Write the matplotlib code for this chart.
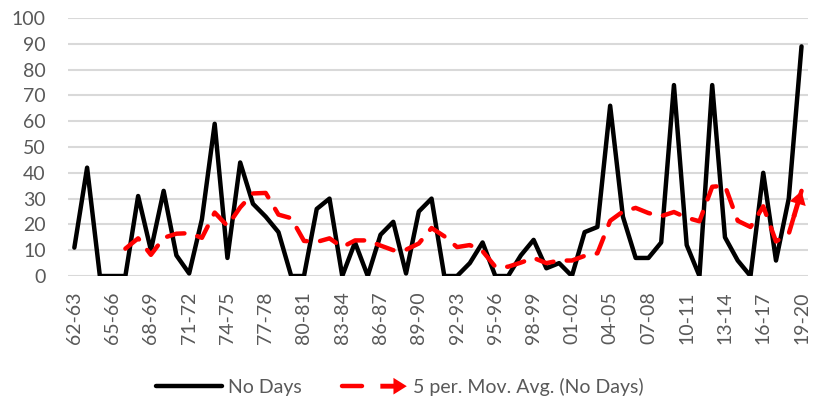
import numpy as np
import pandas as pd
import matplotlib
matplotlib.use('Agg')
import matplotlib.pyplot as plt
from matplotlib.lines import Line2D
from matplotlib.patches import FancyArrowPatch
from matplotlib.legend_handler import HandlerBase

plt.rcParams['font.family'] = ['Lato', 'DejaVu Sans']

# seasons 1962-63 .. 2019-20
start_years = list(range(1962, 2020))
seasons = ['%02d-%02d' % (y % 100, (y + 1) % 100) for y in start_years]

no_days = [11, 42, 0, 0, 0, 31, 10, 33, 8, 1,
           22, 59, 7, 44, 28, 23, 17, 0, 0, 26,
           30, 0, 13, 0, 16, 21, 1, 25, 30, 0,
           0, 5, 13, 0, 0, 8, 14, 3, 5, 0,
           17, 19, 66, 23, 7, 7, 13, 74, 12, 0,
           74, 15, 6, 0, 40, 6, 30, 89]

df = pd.DataFrame({'season': seasons, 'days': no_days})
# excel "5 per. Mov. Avg." trendline
df['ma5'] = df['days'].rolling(5).mean()

grey = '#595959'
lw = 3.2
arrow_style = 'simple,head_length=0.6,head_width=0.75,tail_width=0.22'


class DashArrowHandler(HandlerBase):
    def create_artists(self, legend, orig_handle, xdescent, ydescent,
                       width, height, fontsize, trans):
        y = height / 2 - ydescent
        x0 = -xdescent
        dash = Line2D([x0 + 1, x0 + width * 0.32], [y, y], color='red', lw=lw,
                      solid_capstyle='round', transform=trans)
        arr = FancyArrowPatch((x0 + width * 0.6, y), (x0 + width, y),
                              arrowstyle=arrow_style, mutation_scale=16,
                              color='red', lw=0, shrinkA=0, shrinkB=0,
                              transform=trans)
        return [dash, arr]


fig = plt.figure(figsize=(8.14, 4.01), dpi=100)
ax = fig.add_axes([0.0835, 0.3117, 0.909, 0.6434])

x = np.arange(len(df))
ax.plot(x, df['days'], color='black', lw=lw, solid_joinstyle='round',
        solid_capstyle='round', zorder=3)
ax.plot(x, df['ma5'], color='red', lw=lw, dashes=(4, 3),
        dash_capstyle='round', zorder=4)

# arrow head at end of trendline
m = df['ma5'].values
ax.annotate('', xy=(x[-1], m[-1]),
            xytext=(x[-1] - 0.6, m[-1] - 0.6 * (m[-1] - m[-2])),
            arrowprops=dict(arrowstyle=arrow_style, mutation_scale=16,
                            color='red', lw=0, shrinkA=0, shrinkB=0),
            zorder=5)

ax.set_xlim(-0.5, len(df) - 0.5)
ax.set_ylim(0, 100)
ax.set_yticks(range(0, 101, 10))
ax.set_xticks(x[::3])
ax.set_xticklabels(df['season'][::3], rotation=90)
ax.grid(axis='y', color='#d9d9d9', lw=1.5)
ax.set_axisbelow(True)
for s in ax.spines.values():
    s.set_visible(False)
ax.tick_params(axis='both', length=0, labelsize=14, labelcolor=grey)
ax.tick_params(axis='y', pad=16)
ax.tick_params(axis='x', pad=11)

h1 = Line2D([], [], color='black', lw=lw, solid_capstyle='round')
h2 = object()
leg = fig.legend([h1, h2], ['No Days', '5 per. Mov. Avg. (No Days)'],
                 handler_map={h2: DashArrowHandler()},
                 loc='center', bbox_to_anchor=(0.491, 0.035), ncol=2,
                 frameon=False, fontsize=14, handlelength=3.4,
                 handletextpad=0.3, columnspacing=2.0)
for t in leg.get_texts():
    t.set_color(grey)

fig.savefig('out.png', dpi=100)
